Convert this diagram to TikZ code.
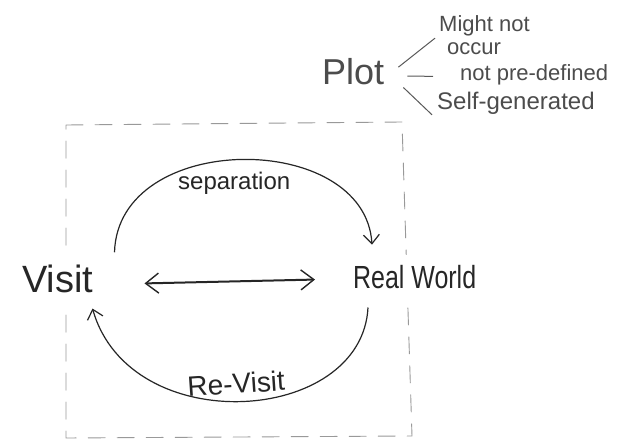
\documentclass[tikz,border=0pt]{standalone}
\usepackage{fontspec}
\setmainfont{Liberation Sans}
\usetikzlibrary{arrows.meta,calc}
\begin{document}
\begin{tikzpicture}[x=1pt,y=-1pt,
  lbl/.style={inner sep=0pt,anchor=base west,text=black!85},
  fs/.style={font=\fontsize{#1}{#1}\selectfont},
  pen/.style={line width=1.2pt,draw=black!85},
  barb/.style={-{Straight Barb[length=9pt,width=16pt,line width=1.2pt]}},
  dbl/.style={line width=2pt,draw=black!85,{Straight Barb[length=13pt,width=20pt,line width=1.4pt]}-{Straight Barb[length=13pt,width=20pt,line width=1.4pt]}},
  frame/.style={draw=black!40,line width=0.9pt,line cap=round,dash pattern=on 17pt off 12pt},
  twig/.style={line width=1pt,draw=black!65}]
\useasboundingbox (0,0) rectangle (622,441);
\fill[white] (0,0) rectangle (622,441);
% frame
\draw[frame] (66,125) -- (402,122) -- (412,436) -- (66,438) -- cycle;
% Plot and notes
\node[lbl,fs=36,text=black!70] (plot) at (322,85) {Plot};
\node[lbl,fs=22,text=black!70] (might) at (439,32) {Might not};
\node[lbl,fs=22,text=black!70] (occur) at (447,55) {occur};
\node[lbl,fs=22,text=black!70] (notpre) at (460,81) {not pre-defined};
\node[lbl,fs=24,text=black!70] (selfgen) at (437,110) {Self-generated};
\draw[twig] ($(plot.east)+(14,-5)$) -- ($(might.south west)+(-4,1.4)$);
\draw[twig] ($(plot.east)+(23,4)$) -- ($(notpre.west)+(-27,1)$);
\draw[twig] ($(plot.south east)+(19,2)$) -- ($(selfgen.west)+(-5,11)$);
% main
\node[lbl,fs=38,fill=white,inner ysep=12pt] (visit) at (22,293) {Visit};
\node[lbl,fs=32,xscale=0.78,fill=white,inner ysep=10pt] (real) at (353,288) {Real World};
\node[lbl,fs=24] (sep) at (178,190) {separation};
\node[lbl,fs=28,rotate=4] (rev) at (188,397) {Re-Visit};
\draw[pen,barb] ($(visit.north east)+(21,-1)$) .. controls (118,130) and (365,130) .. ($(real.north west)+(19,-10)$);
\draw[pen,barb] ($(real.south west)+(15,9)$) .. controls (362,425) and (130,440) .. ($(visit.south east)+(-1,3)$);
\draw[dbl] ($(visit.east)+(51,4)$) -- ($(real.west)+(-38,3)$);
\end{tikzpicture}
\end{document}
